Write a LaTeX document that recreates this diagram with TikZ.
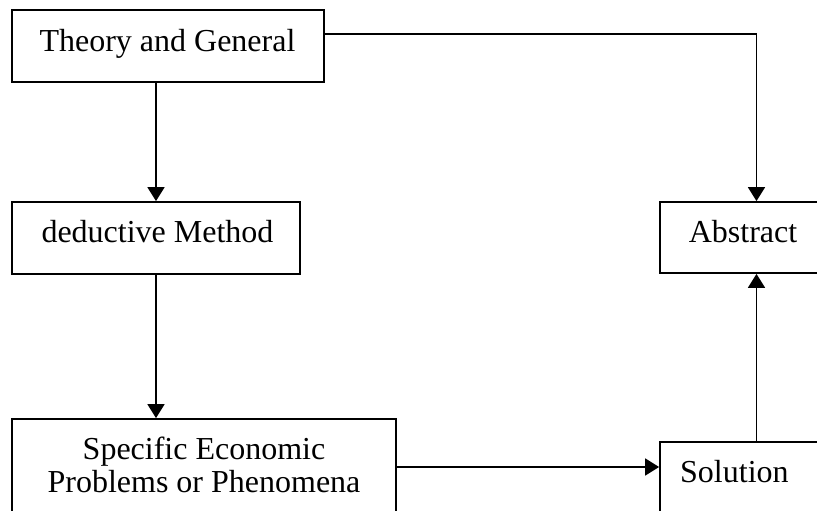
\documentclass[tikz,border=0pt]{standalone}
\usepackage{fontspec}
\setmainfont{Liberation Serif}
\usetikzlibrary{arrows.meta}
\begin{document}
\begin{tikzpicture}[x=1pt,y=-1pt,
  box/.style={draw=black,line width=1.8pt,rectangle,inner sep=0pt},
  txt/.style={inner sep=0pt,font=\fontsize{32}{31}\selectfont},
  arr/.style={line width=1.8pt,-{Triangle[length=14pt,width=17pt]}}]
\useasboundingbox (0,0) rectangle (817,511);
\clip (0,0) rectangle (817,511);
% boxes
\node[box,minimum width=312pt,minimum height=72pt] (theory) at (168,46) {};
\node[box,minimum width=288pt,minimum height=72pt] (deductive) at (156,238) {};
\node[box,minimum width=193pt,minimum height=71pt] (abstract) at (756.5,237.5) {};
\node[box,minimum width=384pt,minimum height=96pt] (specific) at (204,467) {};
\node[box,minimum width=193pt,minimum height=78pt] (solution) at (756.5,481) {};
% texts
\node[txt,anchor=base] (t1) at (167.5,51.5) {Theory and General};
\node[txt,anchor=base] (t2) at (157.5,242.3) {deductive Method};
\node[txt,anchor=base] (t3) at (743,242.7) {Abstract};
\node[txt,anchor=base] (t4) at (204,459) {Specific Economic};
\node[txt,anchor=base] (t5) at (204,492) {Problems or Phenomena};
\node[txt,anchor=base west] (t6) at (680,482.7) {Solution};
% connectors
\draw[arr] (theory.south -| deductive.north) -- (deductive.north);
\draw[arr] (deductive.south) -- (deductive.south |- specific.north);
\draw[arr] ([yshift=12pt]theory.east) -| (abstract.north);
\draw[arr] (specific.east) -- (specific.east -| solution.west);
\draw[arr] (solution.north) -- (abstract.south);
\end{tikzpicture}
\end{document}
